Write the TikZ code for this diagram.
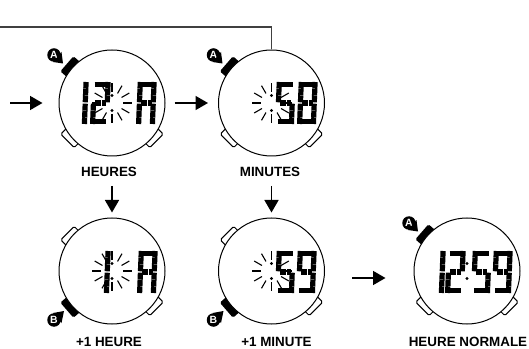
\documentclass[tikz,border=0pt]{standalone}
\usepackage{fontspec}
\setmainfont{Liberation Sans}
\usetikzlibrary{arrows.meta,positioning,calc,backgrounds}

\newcommand{\lcddigit}[3]{%
  \begin{scope}[shift={(#1,#2)},xslant=.04]
    \coordinate (a1) at (3,39.4);    \coordinate (a2) at (16,39.4);
    \coordinate (b1) at (16.4,42);   \coordinate (b2) at (16.4,21.7);
    \coordinate (c1) at (16.4,20.3); \coordinate (c2) at (16.4,0);
    \coordinate (d1) at (3,2.6);     \coordinate (d2) at (16,2.6);
    \coordinate (e1) at (2.6,20.3);  \coordinate (e2) at (2.6,0);
    \coordinate (f1) at (2.6,42);    \coordinate (f2) at (2.6,21.7);
    \coordinate (g1) at (4,21);      \coordinate (g2) at (15,21);
    \foreach \s in {#3} \draw[lcdseg] (\s1) -- (\s2);
  \end{scope}
}

\begin{document}
\begin{tikzpicture}[
    x=1pt, y=1pt,
    node distance=159.5pt,
    dial/.style={circle, draw, fill=white, line width=1pt, minimum size=106pt, inner sep=0pt},
    softbtn/.style={rectangle, draw, fill=white, rounded corners=1.5pt, line width=1pt, minimum width=19pt, minimum height=8pt, inner sep=0pt},
    hardbtn/.style={rectangle, fill=black, rounded corners=1.5pt, minimum width=20pt, minimum height=8.5pt, inner sep=0pt},
    badge/.style={circle, fill=black, text=white, minimum size=13.5pt, inner sep=0pt, font=\fontsize{10.5}{10.5}\selectfont\bfseries},
    caption/.style={font=\fontsize{13.4}{15}\selectfont\bfseries, inner sep=0pt},
    lcdseg/.style={line width=5.2pt, dash pattern=on 6.5pt off .4pt},
    ray/.style={line width=1.1pt},
    arrow/.style={-{Triangle[length=12.5pt,width=14pt]}, line width=1.6pt}
]
    \useasboundingbox (0,0) rectangle (529,348);

    \node[dial] at (112,245) (heures) {};
    \node[dial, right of=heures] (minutes) {};
    \node[dial, below of=heures, yshift=-8.5pt] (plusheure) {};
    \node[dial, right of=plusheure] (plusminute) {};
    \node[dial, right of=plusminute, xshift=36pt] (normale) {};

    \node[caption, below of=heures, node distance=69pt, xshift=-3pt] (lblheures) {HEURES};
    \node[caption, below of=minutes, node distance=69pt, xshift=-1.5pt] (lblminutes) {MINUTES};
    \node[caption, below of=plusheure, node distance=71pt, xshift=-3pt] (lblplusheure) {+1 HEURE};
    \node[caption, below of=plusminute, node distance=71pt, xshift=5pt] (lblplusminute) {+1 MINUTE};
    \node[caption, below of=normale, node distance=71pt, xshift=1pt] (lblnormale) {HEURE NORMALE};

    % push buttons go behind the dials
    \begin{pgfonlayer}{background}
        \foreach \d/\a/\r in {heures/220/-45, heures/-40/45, minutes/220/-45, minutes/-40/45, normale/220/-45, normale/-40/45, plusheure/140/45, plusheure/-40/45, plusminute/140/45, plusminute/-40/45}
            \node[softbtn, rotate=\r] (\d-\a) at ($(\d)+(\a:54.5)$) {};
        \foreach \d in {heures, minutes, normale}
            \node[hardbtn, rotate=49] (\d-push) at ($(\d)+(139:55.5)$) {};
        \foreach \d in {plusheure, plusminute}
            \node[hardbtn, rotate=-49] (\d-push) at ($(\d)+(221:55.5)$) {};
    \end{pgfonlayer}

    \foreach \d in {heures, minutes, normale} {
        \node[badge] (\d-a) at ($(\d)+(-58,48)$) {A};
        \fill ($(\d-a)+(9,-8.5)$) -- ($(\d-a)+(7.5,3)$) -- ($(\d-a)+(-1,-7)$) -- cycle;
    }
    \foreach \d in {plusheure, plusminute} {
        \node[badge] (\d-b) at ($(\d)+(-58,-49)$) {B};
        \fill ($(\d-b)+(10,9)$) -- ($(\d-b)+(-1,7)$) -- ($(\d-b)+(7.5,-3)$) -- cycle;
    }

    % flashing rays
    \foreach \d in {heures, minutes, plusheure, plusminute}
        \foreach \a in {0,30,...,330}
            \draw[ray] ($(\d)+(\a:11)$) -- ($(\d)+(\a:20)$);
    \foreach \d in {heures, minutes, plusheure, plusminute, normale} {
        \fill ($(\d)+(0,7.5)$) circle (1.7);
        \fill ($(\d)+(0,-7.5)$) circle (1.7);
    }

    \lcddigit{68}{224}{b,c}
    \lcddigit{90}{224}{a,b,g,e,d}
    \lcddigit{136}{224}{a,b,c,e,f,g}

    \lcddigit{275}{224}{a,f,g,c,d}
    \lcddigit{297}{224}{a,b,c,d,e,f,g}

    \lcddigit{90}{55}{b,c}
    \lcddigit{137}{55}{a,b,c,e,f,g}

    \lcddigit{275}{55}{a,f,g,c,d}
    \lcddigit{296}{55}{a,b,c,d,f,g}

    \lcddigit{425}{55}{b,c}
    \lcddigit{445}{55}{a,b,g,e,d}
    \lcddigit{471}{55}{a,f,g,c,d}
    \lcddigit{492}{55}{a,b,c,d,f,g}

    \coordinate (start) at (10,245);
    \coordinate (back) at (0,321);

    \draw[arrow, shorten >=16pt] (start) -- (heures);
    \draw[arrow, shorten <=9pt, shorten >=10pt] (heures) -- (minutes);
    \draw[arrow, shorten <=9pt, shorten >=5pt] (heures |- lblheures.south) -- (plusheure);
    \draw[arrow, shorten <=9pt, shorten >=5pt] (minutes |- lblminutes.south) -- (plusminute);
    \draw[arrow, shorten <=27pt, shorten >=28pt] ([yshift=-7pt]plusminute.east) -- ([yshift=-7pt]normale.west);
    \draw[line width=1.2pt, black!75] (back) -| (minutes);
\end{tikzpicture}
\end{document}
